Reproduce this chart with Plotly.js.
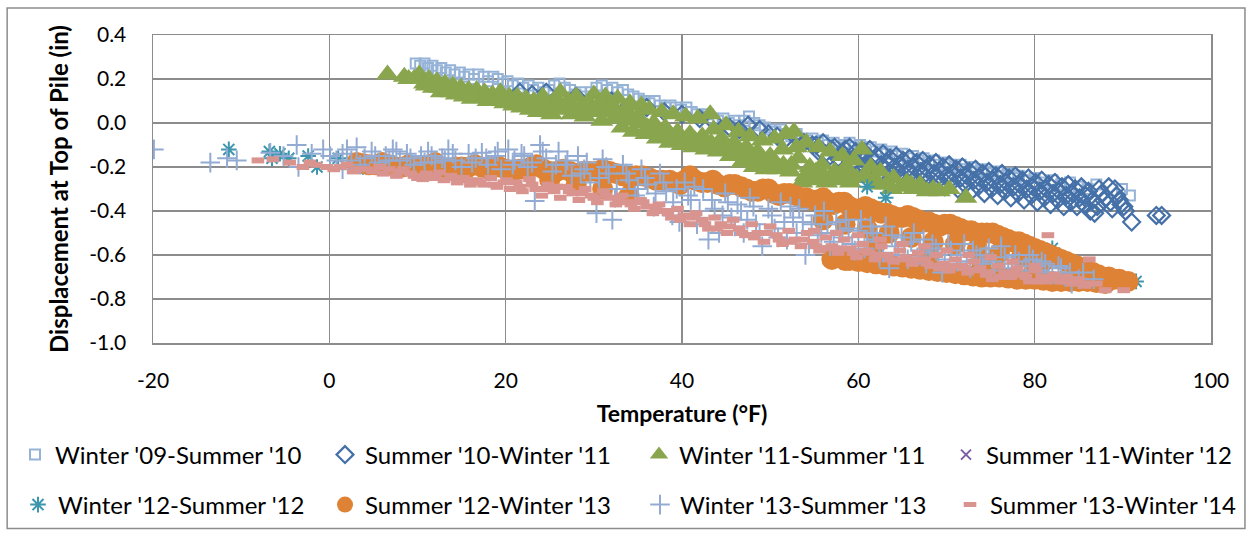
<!DOCTYPE html>
<html>
<head>
<meta charset="utf-8">
<script src="https://cdn.plot.ly/plotly-3.0.1.min.js"></script>
<style>html,body{margin:0;padding:0;background:#fff;}#chart{width:1253px;height:538px;}</style>
</head>
<body>
<div id="chart"></div>
<script>
// ---- Data: [temperature °F, displacement in] ----
const seriesNames = ["Winter '09-Summer '10", "Summer '10-Winter '11", "Winter '11-Summer '11", "Summer '11-Winter '12",
                     "Winter '12-Summer '12", "Summer '12-Winter '13", "Winter '13-Summer '13", "Summer '13-Winter '14"];

const winter09Summer10 = [[9.8,.27],[10.3,.26],[10.8,.27],[11.2,.25],[11.7,.26],[12.2,.24],[12.7,.25],[13.2,.23],[13.7,.24],[14.2,.22],[14.8,.23],[15.3,.21],[15.8,.22],[16.4,.2],[16.9,.22],[17.5,.21],[18,.19],[18.6,.21],[19.1,.2],[19.7,.18],[20.2,.19],[20.8,.17],[21.4,.18],[22,.16],[22.6,.17],[23.1,.15],[23.7,.16],[24.3,.14],[24.9,.15],[25.5,.17],[26.1,.18],[26.7,.16],[27.3,.15],[27.9,.13],[28.5,.14],[29.1,.12],[29.7,.14],[30.3,.16],[30.9,.17],[31.5,.15],[32.1,.16],[32.7,.14],[33.3,.15],[33.9,.13],[34.5,.12],[35.1,.11],[35.7,.1],[36.3,.09],[36.9,.1],[37.5,.08],[38.1,.07],[38.7,.08],[39.3,.07],[39.9,.06],[40.5,.07],[41.1,.05],[41.7,.04],[42.3,.03],[42.9,.04],[43.5,.02],[44.1,.01],[44.7,.02],[45.3,0],[45.9,.01],[46.5,-.01],[47.1,.01],[47.6,.03],[48.2,0],[48.8,-.01],[49.4,-.02],[50,-.03],[50.6,-.04],[51.2,-.03],[51.8,-.05],[52.4,-.06],[53,-.05],[53.6,-.07],[54.2,-.08],[54.8,-.07],[55.4,-.09],[56,-.08],[56.6,-.1],[57.2,-.09],[57.8,-.11],[58.4,-.1],[59,-.09],[59.6,-.11],[60.2,-.1],[60.8,-.12],[61.4,-.11],[62,-.13],[62.6,-.12],[63.2,-.14],[63.8,-.13],[64.4,-.15],[65,-.14],[65.6,-.16],[66.2,-.15],[66.8,-.17],[67.4,-.16],[68,-.18],[68.6,-.17],[69.2,-.19],[69.8,-.18],[70.4,-.19],[71,-.2],[71.6,-.19],[72.2,-.21],[72.8,-.2],[73.4,-.22],[74,-.21],[74.6,-.22],[75.2,-.23],[75.8,-.22],[76.4,-.24],[77,-.23],[77.6,-.25],[78.2,-.24],[79,-.26],[80,-.25],[81,-.27],[82,-.26],[83,-.28],[84,-.27],[85,-.29],[86,-.3],[87,-.28],[89.9,-.3],[90.8,-.33]];

const summer10Winter11 = [[21.6,.14],[23,.13],[24.6,.14],[26,.12],[28,.12],[30,.1],[32,.1],[34,.08],[36,.07],[38,.05],[40,.04],[42,.02],[43.5,.01],[45.4,-.02],[46.5,-.03],[47.5,-.01],[48.8,-.03],[49.8,-.05],[50.8,-.06],[51.8,-.07],[52.8,-.06],[53.8,-.09],[54.8,-.1],[55.5,-.13],[56,-.09],[56.8,-.15],[57.3,-.11],[58,-.17],[58.5,-.12],[59.2,-.19],[59.7,-.13],[60.3,-.16],[60.8,-.2],[61.3,-.12],[61.8,-.17],[62.3,-.23],[62.8,-.14],[63.3,-.18],[63.8,-.24],[64.3,-.15],[64.8,-.19],[65.3,-.26],[65.8,-.16],[66.3,-.2],[66.8,-.27],[67.3,-.17],[67.8,-.21],[68.3,-.28],[68.8,-.18],[69.3,-.22],[69.8,-.29],[70.3,-.19],[70.8,-.23],[71.3,-.3],[71.8,-.2],[72.3,-.24],[72.8,-.31],[73.3,-.21],[73.8,-.25],[74.3,-.32],[74.8,-.22],[75.3,-.26],[75.8,-.33],[76.3,-.23],[76.8,-.27],[77.3,-.34],[77.8,-.24],[78.3,-.28],[78.8,-.35],[79.3,-.25],[79.8,-.29],[80.3,-.36],[80.8,-.26],[81.3,-.3],[81.8,-.37],[82.3,-.27],[82.8,-.31],[83.3,-.38],[83.8,-.28],[84.3,-.32],[84.8,-.38],[85.3,-.29],[85.8,-.33],[86.3,-.4],[86.8,-.41],[87.3,-.3],[87.8,-.35],[88.4,-.29],[88.8,-.39],[89.3,-.33],[89.8,-.37],[90.3,-.4],[91,-.45],[93.8,-.42],[94.4,-.42],
  [55.2,-.1],[56.2,-.14],[57,-.12],[57.7,-.16],[58.3,-.14],[59,-.11],[59.5,-.17],[60,-.19],[60.6,-.13],[61,-.18],[61.6,-.22],[62.1,-.15],[62.6,-.19],[63.1,-.21],[63.6,-.16],[64.1,-.2],[64.6,-.23],[65.1,-.17],[65.6,-.21],[66.1,-.24],[66.6,-.18],[67.1,-.22],[67.6,-.25],[68.1,-.19],[68.6,-.23],[69.1,-.26],[69.6,-.2],[70.1,-.24],[70.6,-.27],[71.1,-.21],[71.6,-.25],[72.1,-.28],[72.6,-.22],[73.1,-.26],[73.6,-.29],[74.1,-.23],[74.6,-.27],[75.1,-.3],[75.6,-.24],[76.1,-.28],[76.6,-.31],[77.1,-.25],[77.6,-.29],[78.1,-.32],[78.6,-.26],[79.1,-.3],[79.6,-.33],[80.1,-.27],[80.6,-.31],[81.1,-.34],[81.6,-.28],[82.1,-.32],[82.6,-.35],[83.1,-.29],[83.6,-.33],[84.1,-.36],[84.6,-.3],[85.1,-.34],[85.6,-.37],[86.1,-.31],[86.6,-.35],[87.1,-.38],[87.6,-.32],[88.1,-.34],[88.6,-.36],[89.1,-.3],[89.6,-.35],[90.1,-.38]];

const winter11Summer11 = [[6.6,.22],[8.5,.21],[9.6,.2],[10.2,.22],[10.8,.18],[11.3,.2],[11.8,.16],[12.2,.19],[12.7,.14],[13.1,.18],[13.6,.15],[14,.17],[14.4,.13],[14.9,.16],[15.3,.12],[15.8,.15],[16.2,.11],[16.7,.15],[17.1,.12],[17.6,.14],[18,.1],[18.5,.13],[19,.11],[19.4,.14],[19.9,.09],[20.4,.12],[20.9,.08],[21.3,.12],[21.8,.07],[22.3,.11],[22.8,.06],[23.2,.1],[23.7,.05],[24.2,.12],[24.7,.07],[25.2,.04],[25.7,.11],[26.2,.14],[26.6,.06],[27.1,.1],[27.5,.04],[28,.12],[28.5,.07],[29,.03],[29.5,.09],[30,.13],[30.4,.05],[30.9,.01],[31.3,.12],[31.8,.08],[32.3,.02],[32.7,.11],[33.2,-.02],[33.6,.06],[34.1,.09],[34.5,-.04],[35,.03],[35.4,.08],[35.9,-.05],[36.3,.06],[36.8,0],[37.2,-.07],[37.7,.05],[38.1,-.02],[38.6,-.09],[39,.04],[39.5,-.04],[40,-.1],[40.4,.03],[40.9,-.05],[41.3,-.11],[41.8,.02],[42.3,-.06],[42.7,-.12],[43.2,.04],[43.6,-.03],[44.1,-.13],[44.5,-.07],[45,-.01],[45.5,-.15],[45.9,-.09],[46.4,-.04],[46.8,-.18],[47.3,-.11],[47.7,-.06],[48.2,-.2],[48.6,-.13],[49.1,-.08],[49.5,-.21],[50,-.15],[50.5,-.07],[50.9,-.21],[51.4,-.12],[51.8,-.05],[52.3,-.22],[52.7,-.04],[53.2,-.16],[53.6,-.27],[54.1,-.09],[54.5,-.2],[55,-.26],[55.5,-.11],[55.9,-.19],[56.4,-.27],[56.8,-.13],[57.3,-.22],[57.7,-.26],[58.2,-.15],[58.6,-.2],[59.1,-.27],[59.5,-.17],[60.4,-.12],[60.9,-.24],[61.4,-.2],[62,-.26],[62.5,-.22],[63.2,-.28],[64,-.25],[64.8,-.29],[65.5,-.27],[66.3,-.3],[67,-.28],[67.8,-.31],[69.2,-.31],[70.3,-.3],[72.2,-.34],
  [9,.2],[11,.17],[12.5,.16],[13.8,.14],[15.1,.14],[16.4,.13],[17.8,.12],[19.2,.11],[20.6,.1],[21.6,.09],[22.5,.08],[23.5,.08],[24.5,.09],[25.5,.08],[26.9,.08],[27.8,.07],[28.8,.06],[29.8,.06],[30.7,.09],[31.6,.05],[32.5,.06],[33.4,.03],[34.3,.01],[35.2,0],[36.1,-.02],[37,-.03],[37.9,-.05],[38.8,-.06],[39.7,-.07],[40.6,-.07],[41.5,-.08],[42.4,-.09],[43.3,-.09],[44.2,-.1],[45.2,-.11],[46.1,-.13],[47,-.15],[47.9,-.16],[48.8,-.17],[49.7,-.18],[50.6,-.18],[51.5,-.19],[52.4,-.19],[53,-.11],[54,-.24],[55.2,-.22],[56.1,-.24],[57,-.25],[58,-.23],[58.9,-.24],[59.8,-.25],[61.7,-.28],[63.8,-.3],[66,-.28],[68.5,-.3]];

const summer11Winter12 = [[15,-.2],[22.2,-.21],[28,-.23],[43.5,-.26],[61,-.48],[66,-.66]];

const winter12Summer12 = [[-11.4,-.12],[-6.8,-.13],[-6.5,-.16],[-5.6,-.14],[-4.6,-.16],[-2.4,-.15],[-1.4,-.2],[1,-.16],[3.8,-.2],[12,-.18],[18,-.21],[29.5,-.22],[60,-.63],[61,-.29],[63.1,-.34],[74,-.7],[82,-.57],[91.5,-.72]];

const summer12Winter13 = [[3.1,-.18],[4.5,-.19],[6,-.18],[7.5,-.2],[9,-.19],[10.5,-.2],[12,-.18],[13.5,-.21],[15,-.2],[16.5,-.19],[18,-.21],[19.3,-.2],[20.8,-.22],[22.2,-.21],[23.5,-.19],[25,-.22],[26.5,-.21],[28,-.23],[29.5,-.22],[31,-.21],[32.5,-.23],[34,-.25],[35.5,-.24],[37,-.26],[38.6,-.26],[39.8,-.28],[40.9,-.24],[42.2,-.27],[43.5,-.26],[44.8,-.29],[46,-.28],[47.3,-.3],[48.6,-.31],[49.8,-.3],[51,-.33],[52.2,-.32],[53.5,-.34],[54.7,-.35],[56,-.34],[57.2,-.37],[58.4,-.36],[59.6,-.39],[60.8,-.38],[62,-.4],[63.2,-.41],[64.4,-.43],[65.6,-.42],[66.8,-.44],[68,-.45],[69.2,-.47],[70.4,-.46],[71.6,-.48],[72.8,-.49],[74,-.5],[75.2,-.5],[76.4,-.52],[77.6,-.54],[78.8,-.55],[80,-.57],[81.2,-.59],[82.4,-.61],[83.6,-.63],[84.8,-.65],[86,-.67],[87.2,-.69],[88.4,-.7],[89.6,-.71],[90.6,-.72],
  [25,-.26],[28,-.28],[31,-.3],[34,-.33],[57,-.62],[58.5,-.625],[60,-.63],[62,-.64],[64,-.65],[66,-.66],[68,-.67],[70,-.68],[72,-.69],[74,-.7],[76,-.7],[78,-.71],[80,-.71],[82,-.72],[84,-.72],[86,-.72],[88,-.73],[62,-.55],[68,-.6],[74,-.63],[80,-.66],
  [56,-.44],[58.5,-.46],[61,-.48],[63.5,-.5],[66,-.52],[68.5,-.54],[71,-.55],[73.5,-.57],[76,-.59],[78.5,-.61],[81,-.63],
  [3.8,-.185],[5.3,-.19],[6.8,-.19],[8.3,-.2],[9.8,-.2],[11.3,-.19],[12.8,-.2],[14.3,-.2],[15.8,-.2],[17.3,-.2],[18.7,-.2],[20,-.21],[21.5,-.21],[22.9,-.2],[24.3,-.21],[25.8,-.22],[27.3,-.22],[28.8,-.22],[30.3,-.22],[31.8,-.22],[33.3,-.24],[34.8,-.24],[36.3,-.25],[37.8,-.26],[39.2,-.27],[40.3,-.26],[41.5,-.26],[42.9,-.27],[44.1,-.28],[45.4,-.28],[46.7,-.29],[47.9,-.31],[49.2,-.3],[50.4,-.32],[51.6,-.32],[52.9,-.33],[54.1,-.34],[55.3,-.35],[56.6,-.36],[57.8,-.36],[59,-.38],[60.2,-.39],[61.4,-.39],[62.6,-.41],[63.8,-.42],[65,-.43],[66.2,-.43],[67.4,-.45],[68.6,-.46],[69.8,-.46],[71,-.47],[72.2,-.49],[73.4,-.5],[74.6,-.5],[75.8,-.51],[77,-.53],[78.2,-.54],[79.4,-.56],[80.6,-.58],[81.8,-.6],[83,-.62],[84.2,-.64],[85.4,-.66],[86.6,-.68],[87.8,-.7],[89,-.71],
  [59,-.625],[61,-.635],[63,-.645],[65,-.655],[67,-.665],[69,-.675],[71,-.685],[73,-.695],[75,-.7],[77,-.705],[79,-.71],[81,-.715],[83,-.72],[85,-.72],[87,-.725]];

const winter13Summer13 = [[-19.9,-.12],[-13.5,-.18],[-11.6,-.16],[-10.5,-.17],[-6.7,-.135],[-5.2,-.15],[-3.7,-.1],[-3.5,-.2],[-2,-.14],[-.7,-.12],[.1,-.15],[1.5,-.14],[1.5,-.21],[2.5,-.17],[3.1,-.11],[4,-.16],[4.8,-.13],[5.6,-.18],[6.4,-.15],[7.2,-.12],[8,-.17],[8.8,-.14],[9.6,-.19],[10.4,-.15],[11.2,-.13],[12,-.18],[12.8,-.16],[13.5,-.12],[14.3,-.17],[15,-.2],[15.8,-.14],[16.6,-.16],[17.3,-.135],[18,-.19],[18.8,-.15],[19.5,-.21],[20.3,-.12],[21,-.17],[21.8,-.14],[22.5,-.2],[23.3,-.355],[23.9,-.1],[24.6,-.16],[25.3,-.22],[26,-.13],[26.8,-.19],[27.5,-.24],[28.2,-.15],[28.9,-.21],[29.6,-.27],[30.3,-.41],[31,-.165],[31.7,-.23],[32.1,-.44],[32.6,-.3],[33.3,-.19],[34,-.26],[34.7,-.33],[35.4,-.21],[36.1,-.28],[36.8,-.38],[37.5,-.23],[38.2,-.31],[38.9,-.42],[39.7,-.45],[40.3,-.27],[41,-.35],[41.7,-.46],[42.4,-.3],[43,-.53],[43.7,-.39],[44.2,-.5],[44.9,-.32],[45.6,-.43],[46.3,-.37],[47,-.5],[47.7,-.34],[48.4,-.46],[49.1,-.56],[49.8,-.39],[50.5,-.48],[51.2,-.36],[51.9,-.53],[52.6,-.43],[53.3,-.39],[54,-.6],[54.7,-.46],[55.4,-.51],[56.1,-.4],[56.8,-.56],[57.5,-.45],[58.2,-.52],[58.9,-.48],[59.6,-.58],[60.3,-.44],[61,-.54],[61.7,-.5],[62.4,-.61],[63.1,-.47],[63.5,-.66],[64.2,-.56],[64.9,-.52],[65.6,-.62],[66.3,-.5],[67,-.58],[67.7,-.64],[68.4,-.55],[69.1,-.6],[69.5,-.68],[70.5,-.58],[71.2,-.63],[72,-.55],[72.7,-.66],[73.4,-.6],[74.1,-.64],[74.8,-.57],[75.5,-.67],[76.2,-.56],[77,-.64],[77.8,-.6],[78.6,-.67],[79.4,-.6],[80.2,-.65],[80.8,-.63],[81.6,-.68],[82.7,-.65],[83.5,-.7],[84.2,-.73],[85.5,-.68],[86.7,-.71],
  [.8,-.17],[2,-.12],[3.5,-.19],[5.2,-.15],[6.8,-.17],[7.6,-.13],[9.2,-.16],[10.8,-.18],[11.6,-.15],[13.1,-.17],[14,-.14],[16.2,-.18],[17.8,-.16],[19.1,-.13],[20.8,-.19],[22.1,-.15],[23,-.18],[24.2,-.13],[25.7,-.19],[27,-.17],[28.5,-.23],[29.2,-.18],[30.6,-.25],[31.4,-.2],[32.4,-.34],[33.7,-.23],[35,-.3],[35.8,-.25],[37,-.32],[37.9,-.27],[39,-.36],[39.4,-.3],[40.7,-.33],[41.4,-.29],[42,-.4],[43.4,-.35],[44.6,-.42],[45.2,-.36],[46,-.47],[46.7,-.4],[47.4,-.44],[48.1,-.38],[48.8,-.5],[50.2,-.42],[50.9,-.52],[51.6,-.45],[52.3,-.38],[53,-.5],[53.7,-.45],[54.4,-.55],[55.1,-.42],[55.8,-.5],[56.5,-.46],[57.2,-.54],[57.9,-.49],[58.6,-.44],[59.3,-.55],[60,-.49],[60.7,-.57],[61.4,-.47],[62.1,-.53],[62.8,-.59],[63.8,-.51],[64.5,-.6],[65.2,-.55],[66,-.54],[66.7,-.61],[67.4,-.53],[68.1,-.59],[68.8,-.57],[69.8,-.62],[70.2,-.55],[71.6,-.6],[72.3,-.63],[73,-.58],[73.8,-.62],[74.5,-.6],[75.2,-.63],[76.6,-.61],[77.4,-.66],[78.2,-.63],[79,-.65],[79.8,-.62],[80.5,-.67],[81.2,-.64],[82,-.69],[83,-.66],[84,-.68],[85,-.71]];

const summer13Winter14 = [[-8.1,-.17],[-6.4,-.165],[-4.5,-.18],[-3,-.2],[-1.5,-.19],[-.3,-.2],[1.2,-.2],[2.7,-.22],[4.2,-.21],[5.7,-.2],[6.1,-.23],[7.6,-.24],[8.4,-.21],[9.2,-.23],[10,-.25],[10.6,-.255],[11.5,-.24],[12.5,-.225],[13,-.26],[13.8,-.24],[14.5,-.27],[15.2,-.25],[16,-.28],[16.8,-.26],[17.5,-.28],[18.3,-.25],[19,-.29],[19.8,-.27],[20.5,-.3],[21.2,-.27],[21.9,-.31],[22.7,-.255],[23.4,-.3],[24.1,-.33],[24.8,-.28],[25.5,-.31],[26.2,-.34],[26.9,-.29],[27.6,-.32],[28.3,-.35],[29,-.3],[29.7,-.33],[30.4,-.36],[31.1,-.31],[31.8,-.34],[32.5,-.37],[33.2,-.33],[33.9,-.36],[34.6,-.39],[35.3,-.35],[36,-.38],[36.7,-.41],[37.4,-.37],[38.1,-.4],[38.8,-.43],[39.5,-.39],[40.2,-.42],[40.9,-.46],[41.6,-.41],[42.3,-.44],[43,-.48],[43.7,-.43],[44.4,-.46],[45.1,-.5],[45.8,-.44],[46.5,-.48],[47.2,-.51],[47.9,-.46],[48.6,-.5],[49.3,-.54],[50,-.47],[50.7,-.51],[51.4,-.55],[52.1,-.49],[52.8,-.53],[53.5,-.56],[54.2,-.5],[54.9,-.54],[55.6,-.58],[56.3,-.52],[57,-.56],[57.7,-.59],[58.4,-.53],[59.1,-.57],[59.8,-.61],[60.5,-.55],[61.2,-.59],[61.9,-.62],[62.6,-.56],[63.3,-.6],[64,-.63],[64.7,-.58],[65.4,-.61],[66.1,-.64],[66.8,-.59],[67.5,-.62],[68.2,-.65],[68.9,-.6],[69.6,-.64],[70.3,-.67],[71,-.62],[71.7,-.65],[72.4,-.68],[73.1,-.63],[73.8,-.66],[74.5,-.69],[75.2,-.71],[75.9,-.65],[76.6,-.68],[77.3,-.7],[78,-.66],[78.7,-.69],[79.4,-.72],[80.1,-.67],[80.8,-.7],[81.2,-.72],[81.5,-.51],[82.2,-.69],[82.9,-.72],[83.6,-.7],[84.3,-.73],[85,-.71],[85.7,-.74],[86.2,-.62],[87,-.73],[88,-.76],[90.1,-.76],
  [-2.2,-.18],[.5,-.21],[2,-.19],[3.4,-.21],[4.9,-.22],[6.8,-.21],[8,-.22],[9.6,-.24],[11,-.23],[12,-.25],[14.1,-.25],[15.6,-.26],[17.1,-.27],[18.7,-.28],[20.1,-.26],[21.6,-.29],[23,-.28],[24.4,-.3],[25.8,-.29],[27.2,-.31],[28.7,-.32],[30,-.34],[31.4,-.33],[32.8,-.35],[34.2,-.37],[35.6,-.36],[37,-.39],[38.4,-.41],[39.8,-.44],[41.2,-.43],[42.6,-.46],[44,-.48],[45.4,-.47],[46.8,-.5],[48.2,-.52],[49.6,-.5],[51,-.53],[52.4,-.54],[53.8,-.53],[55.2,-.56],[56.6,-.57],[58,-.57],[59.4,-.59],[60.8,-.58],[62.2,-.6],[63.6,-.62],[65,-.62],[66.4,-.62],[67.8,-.64],[69.2,-.66],[70.6,-.65],[72,-.66],[73.4,-.67],[74.8,-.68],[76.2,-.7],[77.6,-.68],[79,-.7],[80.4,-.72],[81.8,-.71],[83.2,-.72],[84.6,-.72],[86,-.73],
  [55,-.49],[57.5,-.5],[60,-.51],[62.5,-.53],[65,-.55],[67.5,-.56],[70,-.58],[72.5,-.6],[75,-.61],[77.5,-.63],[80,-.65]];

const xTickVals = [-20, 0, 20, 40, 60, 80, 100];
const xTickText = ['-20', '0', '20', '40', '60', '80', '100'];
const yTickVals = [-1.0, -0.8, -0.6, -0.4, -0.2, 0.0, 0.2, 0.4];
const yTickText = ['-1.0', '-0.8', '-0.6', '-0.4', '-0.2', '0.0', '0.2', '0.4'];

// ---- Styles ----
const FONT = 'Lato, "Open Sans", sans-serif';
const seriesData = [winter09Summer10, summer10Winter11, winter11Summer11, summer11Winter12,
                    winter12Summer12, summer12Winter13, winter13Summer13, summer13Winter14];
const markers = [
  {symbol: 'square-open', size: 10, color: '#95B3D7', line: {width: 2, color: '#95B3D7'}},
  {symbol: 'diamond-open', size: 13, color: '#4571A8', line: {width: 2.2, color: '#4571A8'}},
  {symbol: 'triangle-up', size: 20, color: '#89A54E', line: {width: 0}},
  {symbol: 'x-thin-open', size: 10, color: '#7A5FA0', line: {width: 2, color: '#7A5FA0'}},
  {symbol: 'asterisk-open', size: 13, color: '#3C96AE', line: {width: 2, color: '#3C96AE'}},
  {symbol: 'circle', size: 21, color: '#DE8236', line: {width: 0}},
  {symbol: 'cross-thin-open', size: 14, color: '#93ABD3', line: {width: 2, color: '#93ABD3'}},
  {symbol: 'line-ew-open', size: 9, color: '#D9948F', line: {width: 6, color: '#D9948F'}}
];

const W = 1253, H = 538;
const mL = 153, mR = 41, mT = 35, mB = 194;
const pw = W - mL - mR, ph = H - mT - mB;
const px2x = px => (px - mL) / pw;
const py2y = py => (H - mB - py) / ph;

// one legend per entry so that the 4 x 2 grid below the chart can be placed exactly
const legendIds = ['legend', 'legend2', 'legend3', 'legend4', 'legend5', 'legend6', 'legend7', 'legend8'];
const legendLeftPx = [15, 325, 639, 946, 18, 325, 640, 950];
const legendMidPy = [455, 455, 455, 455, 505, 505, 505, 505];

const traces = seriesData.map((pts, i) => ({
  type: 'scatter',
  mode: 'markers',
  name: seriesNames[i],
  x: pts.map(p => p[0]),
  y: pts.map(p => p[1]),
  marker: markers[i],
  legend: legendIds[i],
  hoverinfo: 'x+y+name'
}));

const layout = {
  width: W, height: H,
  margin: {l: mL, r: mR, t: mT, b: mB, pad: 0},
  paper_bgcolor: '#fff', plot_bgcolor: '#fff',
  font: {family: FONT, size: 21, color: '#000'},
  showlegend: true,
  xaxis: {
    range: [-20, 100], tickvals: xTickVals, ticktext: xTickText,
    showgrid: true, gridcolor: '#8C8C8C', gridwidth: 1.5,
    showline: true, linecolor: '#8C8C8C', linewidth: 1.5, mirror: true,
    zeroline: false, ticks: 'outside', ticklen: 18, tickcolor: 'rgba(0,0,0,0)',
    tickfont: {family: FONT, size: 21, color: '#000'},
    title: {text: '<b>Temperature (°F)</b>', font: {family: FONT, size: 23, color: '#000'}, standoff: 15},
    automargin: false
  },
  yaxis: {
    range: [-1.0, 0.4], tickvals: yTickVals, ticktext: yTickText,
    showgrid: true, gridcolor: '#8C8C8C', gridwidth: 1.5,
    showline: true, linecolor: '#8C8C8C', linewidth: 1.5, mirror: true,
    zeroline: false, ticks: 'outside', ticklen: 21, tickcolor: 'rgba(0,0,0,0)',
    tickfont: {family: FONT, size: 21, color: '#000'},
    title: {text: '<b>Displacement at Top of Pile (in)</b>', font: {family: FONT, size: 24, color: '#000'}, standoff: 14},
    automargin: false
  },
  shapes: [{
    type: 'rect', xref: 'paper', yref: 'paper', layer: 'below',
    x0: px2x(7), x1: px2x(1246), y0: py2y(530), y1: py2y(8),
    line: {color: '#8C8C8C', width: 1.5}, fillcolor: 'rgba(0,0,0,0)'
  }]
};

legendIds.forEach((id, i) => {
  layout[id] = {
    orientation: 'h', xanchor: 'left', yanchor: 'middle',
    x: px2x(legendLeftPx[i]), y: py2y(legendMidPy[i]),
    font: {family: FONT, size: 24, color: '#000'},
    bgcolor: 'rgba(0,0,0,0)', borderwidth: 0, itemsizing: 'trace'
  };
});

Plotly.newPlot('chart', traces, layout, {displayModeBar: false, staticPlot: true});
</script>
</body>
</html>
